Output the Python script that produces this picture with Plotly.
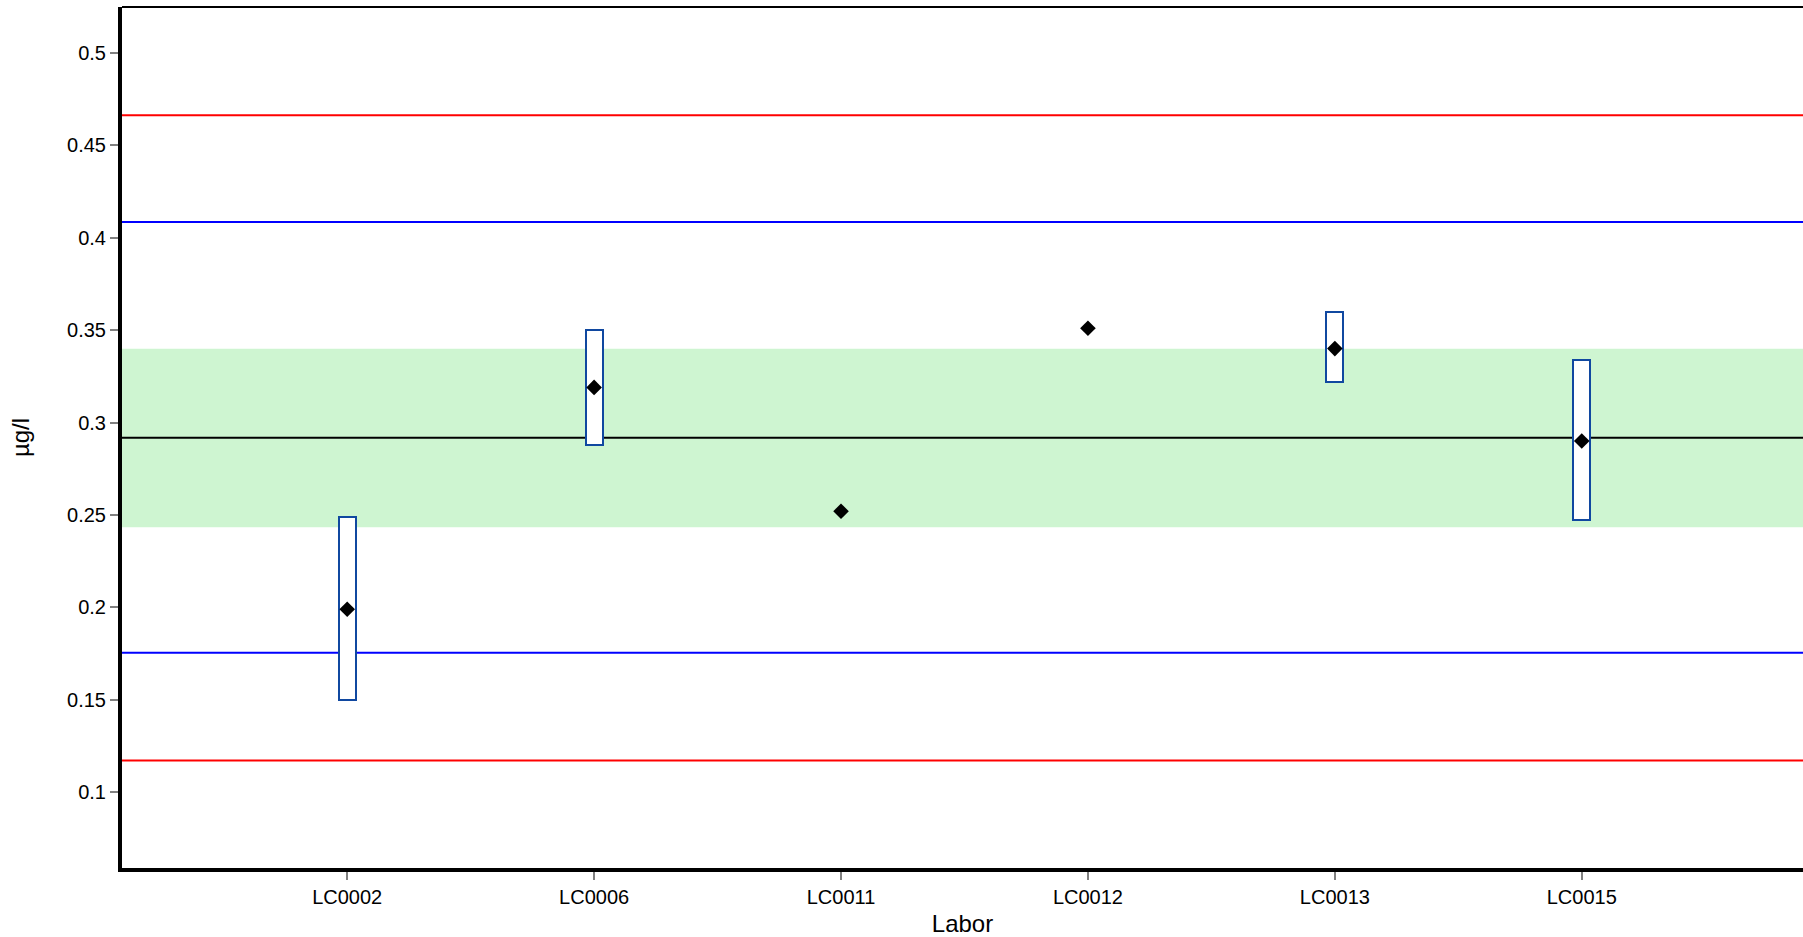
import plotly.graph_objects as go

# lab results
labs = ["LC0002", "LC0006", "LC0011", "LC0012", "LC0013", "LC0015"]
values = [0.199, 0.319, 0.252, 0.351, 0.340, 0.290]
# uncertainty interval (None = no interval reported)
lower = [0.150, 0.288, None, None, 0.322, 0.247]
upper = [0.249, 0.350, None, None, 0.360, 0.334]

# reference value and limits
ref_value = 0.2917
ref_band = (0.2434, 0.3399)
warn_limits = (0.1754, 0.4085)
action_limits = (0.1171, 0.4662)

box_labs = [l for l, lo in zip(labs, lower) if lo is not None]
box_lo = [lo for lo in lower if lo is not None]
box_hi = [hi for hi in upper if hi is not None]

fig = go.Figure()

fig.add_hrect(y0=ref_band[0], y1=ref_band[1], fillcolor="#cef5d1",
              line_width=0, layer="below")
for v in warn_limits:
    fig.add_hline(y=v, line_color="#0000ff", line_width=2, layer="below")
for v in action_limits:
    fig.add_hline(y=v, line_color="#ff0000", line_width=2, layer="below")
fig.add_hline(y=ref_value, line_color="black", line_width=2, layer="below")

fig.add_trace(go.Bar(
    x=box_labs, y=[h - l for h, l in zip(box_hi, box_lo)], base=box_lo,
    width=0.068, marker=dict(color="white", line=dict(color="#1048a0", width=2)),
    showlegend=False))

fig.add_trace(go.Scatter(
    x=labs, y=values, mode="markers",
    marker=dict(symbol="diamond", size=12, color="black"),
    showlegend=False))

# thin top frame line
fig.add_shape(type="line", xref="paper", yref="paper", x0=0, x1=1, y0=1, y1=1,
              line=dict(color="black", width=2))

fig.update_layout(
    width=1803, height=937,
    margin=dict(l=122, r=0, t=7, b=66),
    paper_bgcolor="white", plot_bgcolor="white",
    font=dict(family="Arial", size=20, color="black"),
    bargap=0,
)
fig.update_xaxes(
    type="category", categoryorder="array", categoryarray=labs,
    range=[-0.912, 5.896],
    title=dict(text="Labor", standoff=12),
    showline=True, linecolor="black", linewidth=4,
    ticks="outside", tickcolor="gray", ticklen=8, tickwidth=1.5,
    showgrid=False, zeroline=False,
)
fig.update_yaxes(
    range=[0.059, 0.5248],
    tickvals=[0.1, 0.15, 0.2, 0.25, 0.3, 0.35, 0.4, 0.45, 0.5],
    ticktext=["0.1", "0.15", "0.2", "0.25", "0.3", "0.35", "0.4", "0.45", "0.5"],
    title=dict(text="µg/l", standoff=32),
    showline=True, linecolor="black", linewidth=4,
    ticks="outside", tickcolor="gray", ticklen=8, tickwidth=2,
    showgrid=False, zeroline=False,
)

fig.write_html("out.html", config={"displayModeBar": False},
               post_script="document.body.style.margin='0';")
